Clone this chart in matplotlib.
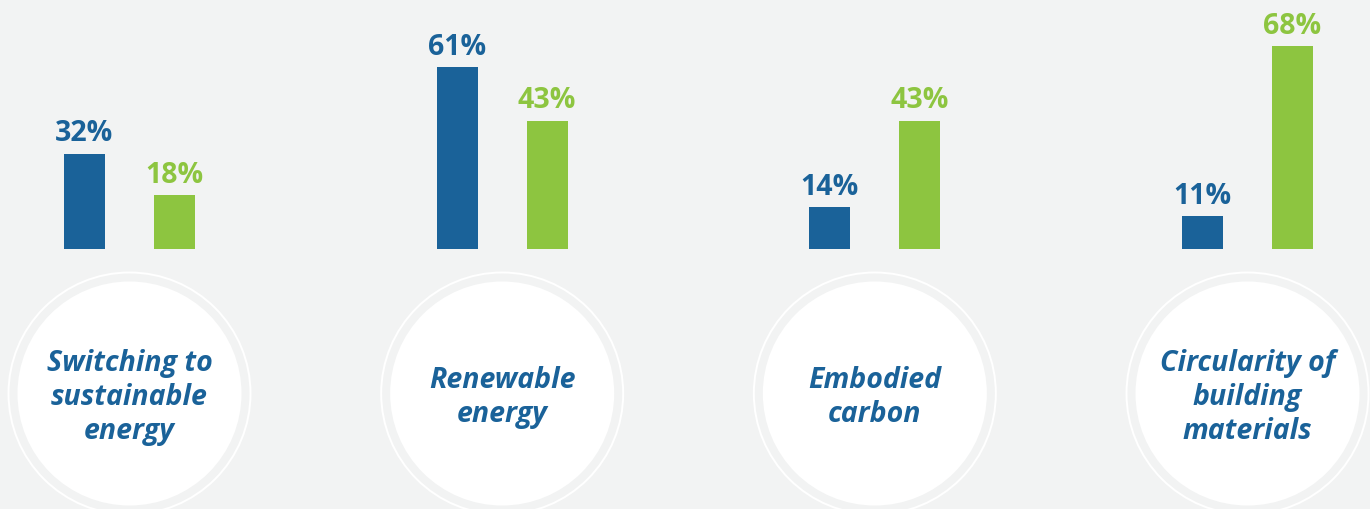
import numpy as np
import matplotlib.pyplot as plt
from matplotlib.patches import Circle

# Survey results per topic (percent)
topics = ["Switching to\nsustainable\nenergy", "Renewable\nenergy",
          "Embodied\ncarbon", "Circularity of\nbuilding\nmaterials"]
blue_vals = [32, 61, 14, 11]
green_vals = [18, 43, 43, 68]

BLUE = "#1a6299"
GREEN = "#8dc540"
BG = "#f2f3f3"

W, H = 1370, 509
fig = plt.figure(figsize=(W / 100, H / 100), dpi=100, facecolor=BG)

# bar axes covers the whole figure; limits chosen so baseline sits at mid-height
px_per_pct = 2.98
group_px = 372.67
x0_px = 129.5
base_px = 249

ax = fig.add_axes([0, 0, 1, 1])
ax.set_facecolor(BG)
ax.set_xlim(-x0_px / group_px, (W - x0_px) / group_px)
ax.set_ylim(-(H - base_px) / px_per_pct, base_px / px_per_pct)
ax.axis("off")

x = np.arange(len(topics))
off = 45 / group_px
bw = 41 / group_px

b1 = ax.bar(x - off, blue_vals, bw, color=BLUE, zorder=3)
b2 = ax.bar(x + off, green_vals, bw, color=GREEN, zorder=3)

for bars, vals, col in [(b1, blue_vals, BLUE), (b2, green_vals, GREEN)]:
    for rect, v in zip(bars, vals):
        ax.annotate(f"{v}%", (rect.get_x() + rect.get_width() / 2, v),
                    xytext=(0, 4), textcoords="offset points",
                    ha="center", va="bottom", color=col,
                    fontsize=20.5, fontweight="bold", family="Open Sans")

# circles with topic names, drawn in pixel space
cax = fig.add_axes([0, 0, 1, 1], zorder=-1)
cax.set_xlim(0, W)
cax.set_ylim(H, 0)
cax.axis("off")
cy = 393.5
for i, name in enumerate(topics):
    cx = x0_px + i * group_px
    cax.add_patch(Circle((cx, cy), 121, facecolor="none", edgecolor="white", lw=1.4))
    cax.add_patch(Circle((cx, cy), 112, facecolor="white", edgecolor="none"))
    cax.text(cx, cy + 4, name, ha="center", va="center", multialignment="center",
             color=BLUE, fontsize=20.5, fontweight="bold", fontstyle="italic",
             family="Open Sans", linespacing=1.22)

fig.savefig("out.png", dpi=100, facecolor=BG)
